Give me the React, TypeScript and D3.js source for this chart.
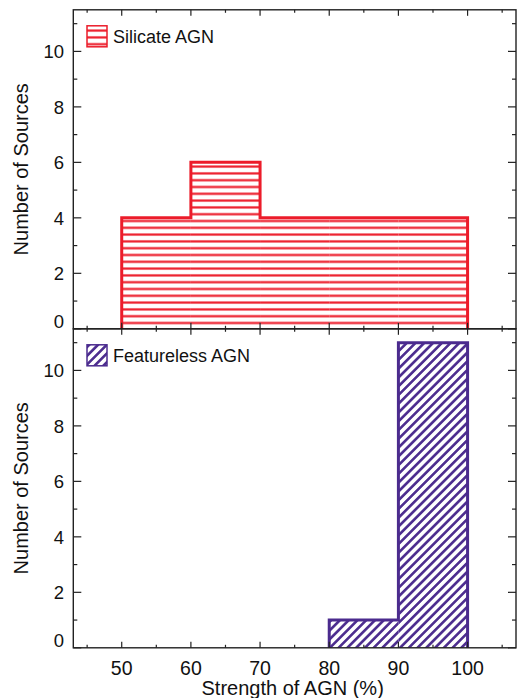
import React from "react";
import * as d3 from "d3";

const binEdges = [50, 60, 70, 80, 90, 100];
const silicateCounts = [4, 6, 4, 4, 4];
const featurelessCounts = [0, 0, 0, 1, 11];
const xMajorTicks = [50, 60, 70, 80, 90, 100];
const xMinorTicks = [45, 55, 65, 75, 85, 95, 105];
const yMajorTicks = [0, 2, 4, 6, 8, 10];
const yMinorTicks = [1, 3, 5, 7, 9, 11];
const panels = [
  { key: "sil", label: "Silicate AGN", counts: silicateCounts, color: "#ec1c2a", pattern: "hatchH" },
  { key: "feat", label: "Featureless AGN", counts: featurelessCounts, color: "#4b2b8e", pattern: "hatchD" },
];

const W = 526;
const H = 698;
const left = 73.3;
const right = 516;
const top = 9.8;
const panelH = 319;
const font = "'Liberation Sans', Arial, Helvetica, sans-serif";
const axisColor = "#222";

function outlinePoints(counts: number[]) {
  let first = counts.findIndex((c) => c > 0);
  let last = counts.length - 1 - [...counts].reverse().findIndex((c) => c > 0);
  const pts: [number, number][] = [[binEdges[first], 0]];
  for (let i = first; i <= last; i++) {
    pts.push([binEdges[i], counts[i]]);
    pts.push([binEdges[i + 1], counts[i]]);
  }
  pts.push([binEdges[last + 1], 0]);
  return pts;
}

export default function App() {
  const x = d3.scaleLinear().domain([43, 107]).range([left, right]);
  return (
    <svg width={W} height={H} style={{ position: "absolute", left: 0, top: 0, background: "#fff" }} fontFamily={font}>
      <defs>
        <pattern id="hatchH" patternUnits="userSpaceOnUse" width={10} height={6.8}>
          <line x1={0} x2={10} y1={3.4} y2={3.4} stroke="#ec1c2a" strokeWidth={2.2} />
        </pattern>
        <pattern id="hatchD" patternUnits="userSpaceOnUse" width={6.2} height={10} patternTransform="rotate(45)">
          <line x1={3.1} x2={3.1} y1={0} y2={10} stroke="#4b2b8e" strokeWidth={2.6} />
        </pattern>
      </defs>
      {panels.map((p, pi) => {
        const y0 = top + pi * panelH;
        const y = d3.scaleLinear().domain([0, 11.5]).range([y0 + panelH, y0]);
        const pts = outlinePoints(p.counts);
        const line = d3.line<[number, number]>().x((d) => x(d[0])).y((d) => y(d[1]));
        const isBottom = pi === panels.length - 1;
        return (
          <g key={p.key}>
            {p.counts.map((c, i) =>
              c > 0 ? (
                <rect
                  key={i}
                  x={x(binEdges[i])}
                  width={x(binEdges[i + 1]) - x(binEdges[i])}
                  y={y(c)}
                  height={y(0) - y(c)}
                  fill={`url(#${p.pattern})`}
                />
              ) : null
            )}
            <path d={line(pts) || ""} fill="none" stroke={p.color} strokeWidth={3} strokeLinejoin="miter" />
            <rect x={left} y={y0} width={right - left} height={panelH} fill="none" stroke={axisColor} strokeWidth={1.4} />
            {xMajorTicks.map((t) => (
              <g key={"xm" + t}>
                <line x1={x(t)} x2={x(t)} y1={y(0)} y2={y(0) - 6} stroke={axisColor} strokeWidth={1.2} />
                <line x1={x(t)} x2={x(t)} y1={y0} y2={y0 + 6} stroke={axisColor} strokeWidth={1.2} />
              </g>
            ))}
            {xMinorTicks.map((t) => (
              <g key={"xn" + t}>
                <line x1={x(t)} x2={x(t)} y1={y(0)} y2={y(0) - 3} stroke={axisColor} strokeWidth={1.2} />
                <line x1={x(t)} x2={x(t)} y1={y0} y2={y0 + 3} stroke={axisColor} strokeWidth={1.2} />
              </g>
            ))}
            {yMajorTicks.map((t) => (
              <g key={"ym" + t}>
                <line x1={left} x2={left + 8} y1={y(t)} y2={y(t)} stroke={axisColor} strokeWidth={1.2} />
                <line x1={right} x2={right - 8} y1={y(t)} y2={y(t)} stroke={axisColor} strokeWidth={1.2} />
                <text x={64} y={t === 0 ? y(t) - 1 : y(t) + 6.7} textAnchor="end" fontSize={18.5} fill="#111">
                  {t}
                </text>
              </g>
            ))}
            {yMinorTicks.map((t) => (
              <g key={"yn" + t}>
                <line x1={left} x2={left + 4} y1={y(t)} y2={y(t)} stroke={axisColor} strokeWidth={1.2} />
                <line x1={right} x2={right - 4} y1={y(t)} y2={y(t)} stroke={axisColor} strokeWidth={1.2} />
              </g>
            ))}
            <text
              transform={`translate(28, ${y0 + panelH / 2}) rotate(-90)`}
              textAnchor="middle"
              fontSize={20}
              fill="#111"
            >
              Number of Sources
            </text>
            <rect x={87} y={y0 + 16} width={20} height={21} fill={`url(#${p.pattern})`} stroke={p.color} strokeWidth={1.5} />
            <text x={113} y={y0 + 33.5} fontSize={18} fill="#111">
              {p.label}
            </text>
            {isBottom &&
              xMajorTicks.map((t) => (
                <text key={"xl" + t} x={x(t)} y={674.5} textAnchor="middle" fontSize={19.5} fill="#111">
                  {t}
                </text>
              ))}
          </g>
        );
      })}
      <text x={(left + right) / 2 - 2} y={694.5} textAnchor="middle" fontSize={20} fill="#111">
        Strength of AGN (%)
      </text>
    </svg>
  );
}
